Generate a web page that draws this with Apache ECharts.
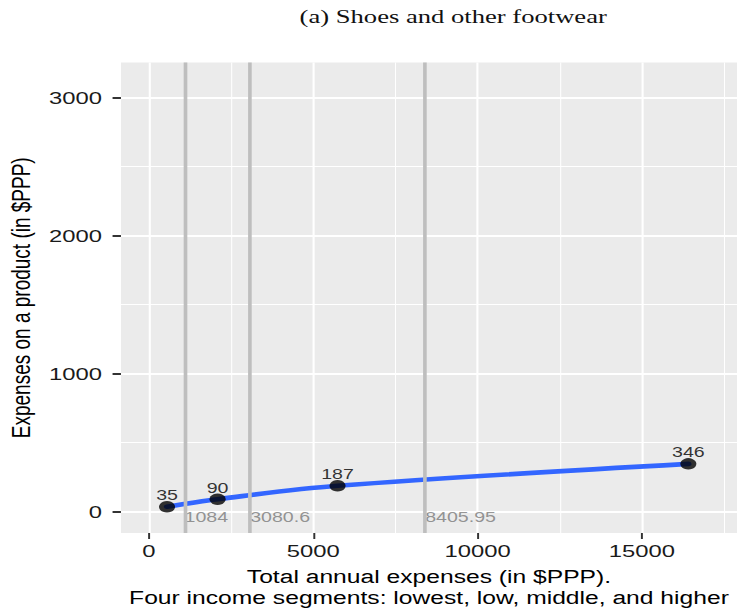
<!DOCTYPE html>
<html>
<head>
<meta charset="utf-8">
<script src="https://cdn.jsdelivr.net/npm/echarts@6/dist/echarts.min.js"></script>
<style>
  html, body { margin: 0; padding: 0; background: #ffffff; }
  #stage { width: 738px; height: 615px; overflow: hidden; }
  /* the plot is laid out narrow and widened horizontally */
  #chart { width: 527px; height: 615px; transform: scaleX(1.4); transform-origin: 0 0; }
</style>
</head>
<body>
<div id="stage"><div id="chart"></div></div>
<script>
// Mean total annual expenses of each income segment and spend on footwear ($PPP)
const segmentTotals = [550, 2089, 5739, 16414];
const footwearSpend = [35, 90, 187, 346];
// Boundaries between the four income segments
const segmentCutoffs = [1084, 3080.6, 8405.95];
// Axis ticks
const xTickValues = [0, 5000, 10000, 15000];
const yTickValues = [0, 1000, 2000, 3000];

const points = segmentTotals.map((x, i) => [x, footwearSpend[i]]);
const cutoffMarks = segmentCutoffs.map(c => [c, 0]);

const chart = echarts.init(document.getElementById('chart'), null, { renderer: 'svg' });

const gridWhite = '#ffffff';
const plain = v => String(v);

chart.setOption({
  animation: false,
  backgroundColor: '#ffffff',
  title: {
    text: '(a) Shoes and other footwear',
    left: 214,
    top: 7,
    padding: 0,
    textStyle: { fontFamily: 'Liberation Serif', fontSize: 19, fontWeight: 'normal', color: '#111' }
  },
  grid: {
    left: 86.4, right: 0.6, top: 62.5, bottom: 82,
    show: true, backgroundColor: '#EBEBEB', borderWidth: 0,
    containLabel: false, outerBoundsMode: 'none'
  },
  xAxis: {
    type: 'value',
    min: -852, max: 17894,
    minInterval: 5000, maxInterval: 5000,
    axisLine: { show: false, onZero: false },
    axisTick: { show: true, length: 6, customValues: xTickValues, lineStyle: { color: '#333', width: 1.4 } },
    axisLabel: { customValues: xTickValues, formatter: plain, margin: 9, fontFamily: 'Liberation Sans', fontSize: 17, color: '#1a1a1a' },
    splitLine: { show: true, lineStyle: { color: gridWhite, width: 1.5 } },
    minorTick: { show: false, splitNumber: 2 },
    minorSplitLine: { show: true, lineStyle: { color: gridWhite, width: 0.75 } },
    name: 'Total annual expenses (in $PPP).\nFour income segments: lowest, low, middle, and higher',
    nameLocation: 'middle',
    nameGap: 34,
    nameTextStyle: { fontFamily: 'Liberation Sans', fontSize: 17.6, lineHeight: 21, color: '#000' }
  },
  yAxis: {
    type: 'value',
    min: -155, max: 3255,
    minInterval: 1000, maxInterval: 1000,
    axisLine: { show: false, onZero: false },
    axisTick: { show: true, length: 6, customValues: yTickValues, lineStyle: { color: '#333', width: 2 } },
    axisLabel: { customValues: yTickValues, formatter: plain, margin: 13.5, fontFamily: 'Liberation Sans', fontSize: 17, color: '#1a1a1a' },
    splitLine: { show: true, lineStyle: { color: gridWhite, width: 2 } },
    minorTick: { show: false, splitNumber: 2 },
    minorSplitLine: { show: true, lineStyle: { color: gridWhite, width: 1 } },
    name: 'Expenses on a product (in $PPP)',
    nameLocation: 'middle',
    nameGap: 51,
    nameTextStyle: { fontFamily: 'Liberation Sans', fontSize: 19, color: '#000' }
  },
  series: [
    {
      // segment boundaries with their values written beside them
      name: 'cutoffs',
      type: 'scatter',
      z: 1,
      symbolSize: 0,
      silent: true,
      data: cutoffMarks,
      label: {
        show: true,
        position: 'right',
        distance: 0,
        offset: [0, 6],
        formatter: p => String(p.value[0]),
        fontFamily: 'Liberation Sans',
        fontSize: 14,
        color: '#7a7a7a'
      },
      markLine: {
        silent: true,
        symbol: 'none',
        animation: false,
        label: { show: false },
        lineStyle: { color: '#BEBEBE', width: 2.6, type: 'solid' },
        data: segmentCutoffs.map(c => ({ xAxis: c }))
      }
    },
    {
      name: 'trend',
      type: 'line',
      z: 2,
      data: points,
      showSymbol: false,
      smooth: 0.35,
      lineStyle: { color: '#3366FF', width: 4.6, cap: 'round' },
      silent: true
    },
    {
      name: 'segments',
      type: 'scatter',
      z: 3,
      data: points,
      symbol: 'circle',
      symbolSize: 11.5,
      itemStyle: { color: '#000' },
      label: {
        show: true,
        position: 'inside',
        offset: [0, -11],
        formatter: p => String(p.value[1]),
        fontFamily: 'Liberation Sans',
        fontSize: 14,
        color: '#000'
      }
    }
  ]
});
</script>
</body>
</html>
